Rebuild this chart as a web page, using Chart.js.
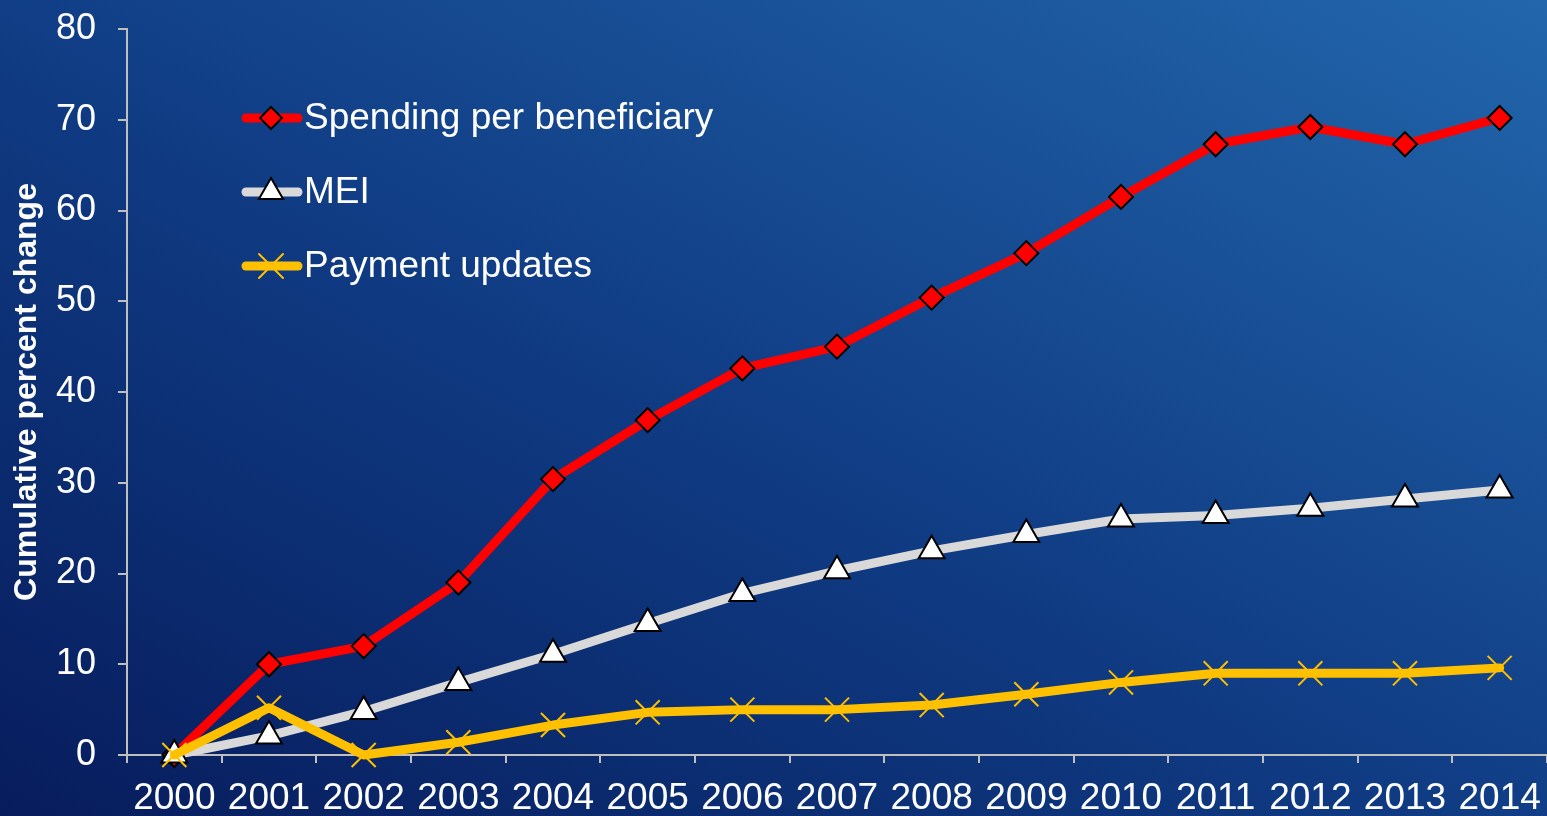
<!DOCTYPE html>
<html>
<head>
<meta charset="utf-8">
<script src="https://cdn.jsdelivr.net/npm/chart.js@4/dist/chart.umd.min.js"></script>
<style>
  html, body { margin: 0; padding: 0; }
  body {
    width: 1547px; height: 816px; overflow: hidden;
    background: linear-gradient(to top right, #071c5c 0%, #0f3a82 45%, #2266ab 100%);
  }
  #wrap { width: 1547px; height: 816px; position: relative; }
</style>
</head>
<body>
<div id="wrap"><canvas id="chart"></canvas></div>
<script>
// --- data ---
const years = ['2000', '2001', '2002', '2003', '2004', '2005', '2006', '2007',
               '2008', '2009', '2010', '2011', '2012', '2013', '2014'];
const spendingPerBeneficiary = [0, 10, 12, 19, 30.4, 36.9, 42.6, 45, 50.4, 55.3, 61.5, 67.3, 69.2, 67.3, 70.2];
const mei = [0, 2.1, 4.8, 8.0, 11.1, 14.5, 17.8, 20.3, 22.5, 24.3, 26.0, 26.4, 27.2, 28.2, 29.2];
const paymentUpdates = [0, 5.2, 0, 1.4, 3.3, 4.7, 5.0, 5.0, 5.5, 6.7, 8.0, 9.0, 9.0, 9.0, 9.6];
const yTicks = [0, 10, 20, 30, 40, 50, 60, 70, 80];

const FONT = 'Arial, "Liberation Sans", sans-serif';
const AXIS_GREY = '#bfbfbf';

// legend drawn inside the plot: line + marker + label
const insideLegend = {
    id: 'insideLegend',
    afterDatasetsDraw(chart) {
        const ctx = chart.ctx;
        const rows = [118, 192, 266];
        chart.data.datasets.forEach((ds, i) => {
            const y = rows[i];
            ctx.save();
            ctx.strokeStyle = ds.borderColor;
            ctx.lineWidth = ds.borderWidth;
            ctx.lineCap = 'round';
            ctx.beginPath();
            ctx.moveTo(246, y);
            ctx.lineTo(298, y);
            ctx.stroke();

            ctx.fillStyle = ds.pointBackgroundColor;
            ctx.strokeStyle = ds.pointBorderColor;
            ctx.lineWidth = ds.pointBorderWidth;
            Chart.helpers.drawPoint(ctx, {
                pointStyle: ds.pointStyle,
                radius: ds.legendRadius,
                borderWidth: ds.pointBorderWidth,
                rotation: 0
            }, 271, y);

            ctx.fillStyle = '#ffffff';
            ctx.font = '37px ' + FONT;
            ctx.textBaseline = 'middle';
            ctx.textAlign = 'left';
            ctx.fillText(ds.label, 304, y + 1);
            ctx.restore();
        });
    }
};

new Chart(document.getElementById('chart'), {
    type: 'line',
    data: {
        labels: years,
        datasets: [
            {
                label: 'Spending per beneficiary',
                data: spendingPerBeneficiary,
                borderColor: '#ff0000',
                borderWidth: 9,
                pointStyle: 'rectRot',
                pointRadius: 12,
                legendRadius: 11,
                pointBackgroundColor: '#ff0000',
                pointBorderColor: '#000000',
                pointBorderWidth: 2,
                order: 3
            },
            {
                label: 'MEI',
                data: mei,
                borderColor: '#d9d9d9',
                borderWidth: 9,
                pointStyle: 'triangle',
                pointRadius: 15,
                legendRadius: 14,
                pointBackgroundColor: '#ffffff',
                pointBorderColor: '#000000',
                pointBorderWidth: 2,
                order: 2
            },
            {
                label: 'Payment updates',
                data: paymentUpdates,
                borderColor: '#ffc000',
                borderWidth: 9,
                pointStyle: 'crossRot',
                pointRadius: 17,
                legendRadius: 17,
                pointBackgroundColor: '#ffc000',
                pointBorderColor: '#ffc000',
                pointBorderWidth: 2,
                order: 1
            }
        ]
    },
    options: {
        responsive: true,
        maintainAspectRatio: false,
        animation: false,
        clip: false,
        elements: { line: { tension: 0, borderJoinStyle: 'round', borderCapStyle: 'round' } },
        layout: { autoPadding: false, padding: { top: 29, right: 0, left: 0, bottom: 0 } },
        plugins: {
            legend: { display: false },
            tooltip: { enabled: false }
        },
        scales: {
            x: {
                offset: true,
                grid: {
                    offset: true,
                    drawOnChartArea: false,
                    drawTicks: true,
                    tickLength: 8,
                    color: AXIS_GREY,
                    lineWidth: 2
                },
                border: { color: AXIS_GREY, width: 2 },
                ticks: {
                    color: '#ffffff',
                    font: { size: 37, family: FONT },
                    padding: 14,
                    maxRotation: 0,
                    autoSkip: false
                },
                afterFit(scale) {
                    scale.height = 61;
                    scale.paddingLeft = 0;
                    scale.paddingRight = 0;
                }
            },
            y: {
                min: 0,
                max: 80,
                afterBuildTicks(scale) { scale.ticks = yTicks.map(v => ({ value: v })); },
                grid: {
                    drawOnChartArea: false,
                    drawTicks: true,
                    tickLength: 9,
                    color: AXIS_GREY,
                    lineWidth: 2
                },
                border: { color: AXIS_GREY, width: 2 },
                ticks: {
                    color: '#ffffff',
                    font: { size: 36, family: FONT },
                    padding: 22
                },
                title: {
                    display: true,
                    text: 'Cumulative percent change',
                    color: '#ffffff',
                    font: { size: 32, weight: 'bold', family: FONT },
                    padding: { top: 8, bottom: 0 }
                },
                afterFit(scale) {
                    scale.width = 127;
                    scale.paddingTop = 0;
                    scale.paddingBottom = 0;
                }
            }
        }
    },
    plugins: [insideLegend]
});
</script>
</body>
</html>
